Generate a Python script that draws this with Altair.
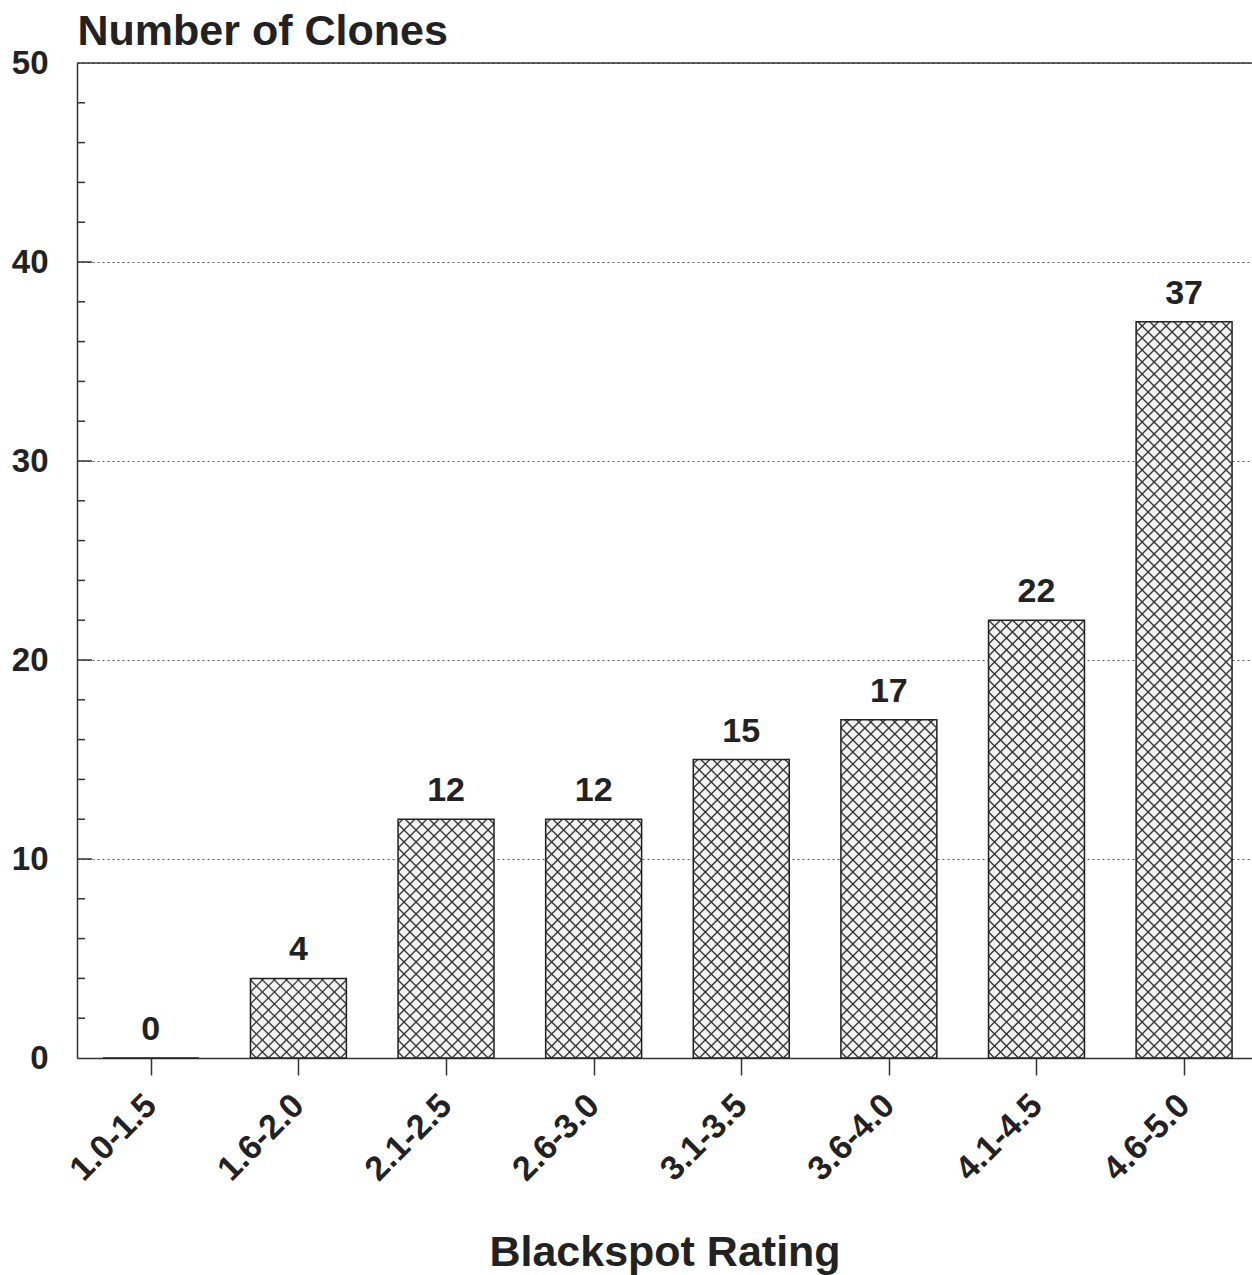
import altair as alt
import numpy as np
import pandas as pd

# Blackspot rating classes and clone counts
ratings = ["1.0-1.5", "1.6-2.0", "2.1-2.5", "2.6-3.0", "3.1-3.5", "3.6-4.0", "4.1-4.5", "4.6-5.0"]
clones = [0, 4, 12, 12, 15, 17, 22, 37]

# Plot geometry
W, H = 1175, 995
X_DOMAIN = [-0.5, 7.46]
Y_DOMAIN = [0, 50]
PX_X = W / (X_DOMAIN[1] - X_DOMAIN[0])   # pixels per x unit
PX_Y = H / (Y_DOMAIN[1] - Y_DOMAIN[0])   # pixels per y unit
HALF = 0.325                               # bar half-width in x units
PERIOD = 12.0                              # cross-hatch spacing in pixels

FONT = "Liberation Sans"
INK = "#222222"

bars = pd.DataFrame({
    "idx": list(range(len(ratings))),
    "rating": ratings,
    "count": clones,
})
bars["x0"] = bars["idx"] - HALF
bars["x1"] = bars["idx"] + HALF

# Cross-hatch segments for each bar, built in pixel space and mapped back to data units
segs = []
for i, v in zip(bars["idx"], bars["count"]):
    w = 2 * HALF * PX_X
    h = v * PX_Y
    if h <= 0:
        continue
    x_left = i - HALF
    # lines rising to the right: y = x + c
    for c in np.arange(-w + PERIOD / 2, h, PERIOD):
        xa, xb = max(0.0, -c), min(w, h - c)
        if xb > xa:
            segs.append((x_left + xa / PX_X, (xa + c) / PX_Y, x_left + xb / PX_X, (xb + c) / PX_Y))
    # lines falling to the right: y = -x + c
    for c in np.arange(PERIOD / 2, w + h, PERIOD):
        xa, xb = max(0.0, c - h), min(w, c)
        if xb > xa:
            segs.append((x_left + xa / PX_X, (c - xa) / PX_Y, x_left + xb / PX_X, (c - xb) / PX_Y))
hatch = pd.DataFrame(segs, columns=["hx0", "hy0", "hx1", "hy1"])

label_expr = "[" + ",".join(f"'{r}'" for r in ratings) + "][datum.value]"

x_scale = alt.Scale(domain=X_DOMAIN, nice=False, zero=False)
y_scale = alt.Scale(domain=Y_DOMAIN, nice=False)

x_axis = alt.Axis(
    values=list(range(len(ratings))), labelExpr=label_expr, grid=False,
    labelAngle=-45, labelAlign="right", labelBaseline="middle", labelPadding=25,
    labelFont=FONT, labelFontSize=34, labelFontWeight="bold", labelColor=INK,
    tickSize=17, tickColor="#333333", tickWidth=1.5,
    domainColor="#333333", domainWidth=1.5,
    title="Blackspot Rating", titleFont=FONT, titleFontSize=43, titleFontWeight="bold",
    titleColor=INK, titleY=207, titleBaseline="alphabetic",
)
y_axis = alt.Axis(
    values=[0, 10, 20, 30, 40, 50], ticks=False, labelPadding=29,
    labelFont=FONT, labelFontSize=33, labelFontWeight="bold", labelColor=INK,
    grid=True, gridDash=[2, 3], gridColor="#555555", gridWidth=1.2,
    domainColor="#333333", domainWidth=1.5,
    title="Number of Clones", titleAngle=0, titleX=0, titleY=-19, titleAlign="left",
    titleBaseline="alphabetic", titleFont=FONT, titleFontSize=43, titleFontWeight="bold",
    titleColor=INK,
)

base = alt.Chart(bars)

fill = base.mark_rect(fill="#f2f2f2").encode(
    x=alt.X("x0:Q", scale=x_scale, axis=x_axis),
    x2="x1:Q",
    y=alt.Y("count:Q", scale=y_scale, axis=y_axis),
    y2=alt.datum(0),
)

hatch_lines = alt.Chart(hatch).mark_rule(color="#333333", strokeWidth=1.3).encode(
    x=alt.X("hx0:Q", scale=x_scale),
    x2="hx1:Q",
    y=alt.Y("hy0:Q", scale=y_scale),
    y2="hy1:Q",
)

outline = base.mark_rect(fill=None, stroke="#222222", strokeWidth=1.5).encode(
    x=alt.X("x0:Q", scale=x_scale),
    x2="x1:Q",
    y=alt.Y("count:Q", scale=y_scale),
    y2=alt.datum(0),
)

values = base.mark_text(
    dy=-18, baseline="alphabetic", align="center",
    font=FONT, fontSize=34, fontWeight="bold", color=INK,
).encode(
    x=alt.X("idx:Q", scale=x_scale),
    y=alt.Y("count:Q", scale=y_scale),
    text="count:Q",
)

# Inner minor ticks every 2 units and longer major ticks every 10
minor_vals = [v for v in range(2, 50, 2) if v % 10]
major_vals = [10, 20, 30, 40]
minor_ticks = alt.Chart(pd.DataFrame({"v": minor_vals})).mark_rule(
    color="#333333", strokeWidth=1.5
).encode(x=alt.value(0), x2=alt.value(8), y=alt.Y("v:Q", scale=y_scale))
major_ticks = alt.Chart(pd.DataFrame({"v": major_vals})).mark_rule(
    color="#333333", strokeWidth=1.5
).encode(x=alt.value(0), x2=alt.value(15), y=alt.Y("v:Q", scale=y_scale))

top_border = alt.Chart(pd.DataFrame({"v": [50]})).mark_rule(
    color="#333333", strokeWidth=1.5
).encode(x=alt.value(0), x2=alt.value(W), y=alt.Y("v:Q", scale=y_scale))

chart = alt.layer(
    fill, hatch_lines, outline, values, minor_ticks, major_ticks, top_border
).properties(
    width=W, height=H,
    autosize=alt.AutoSizeParams(type="none"),
    padding={"left": 77, "top": 63, "right": 0, "bottom": 217},
    background="white",
).configure_view(stroke=None)

chart.save("out.html", embed_options={"renderer": "svg", "actions": False})
